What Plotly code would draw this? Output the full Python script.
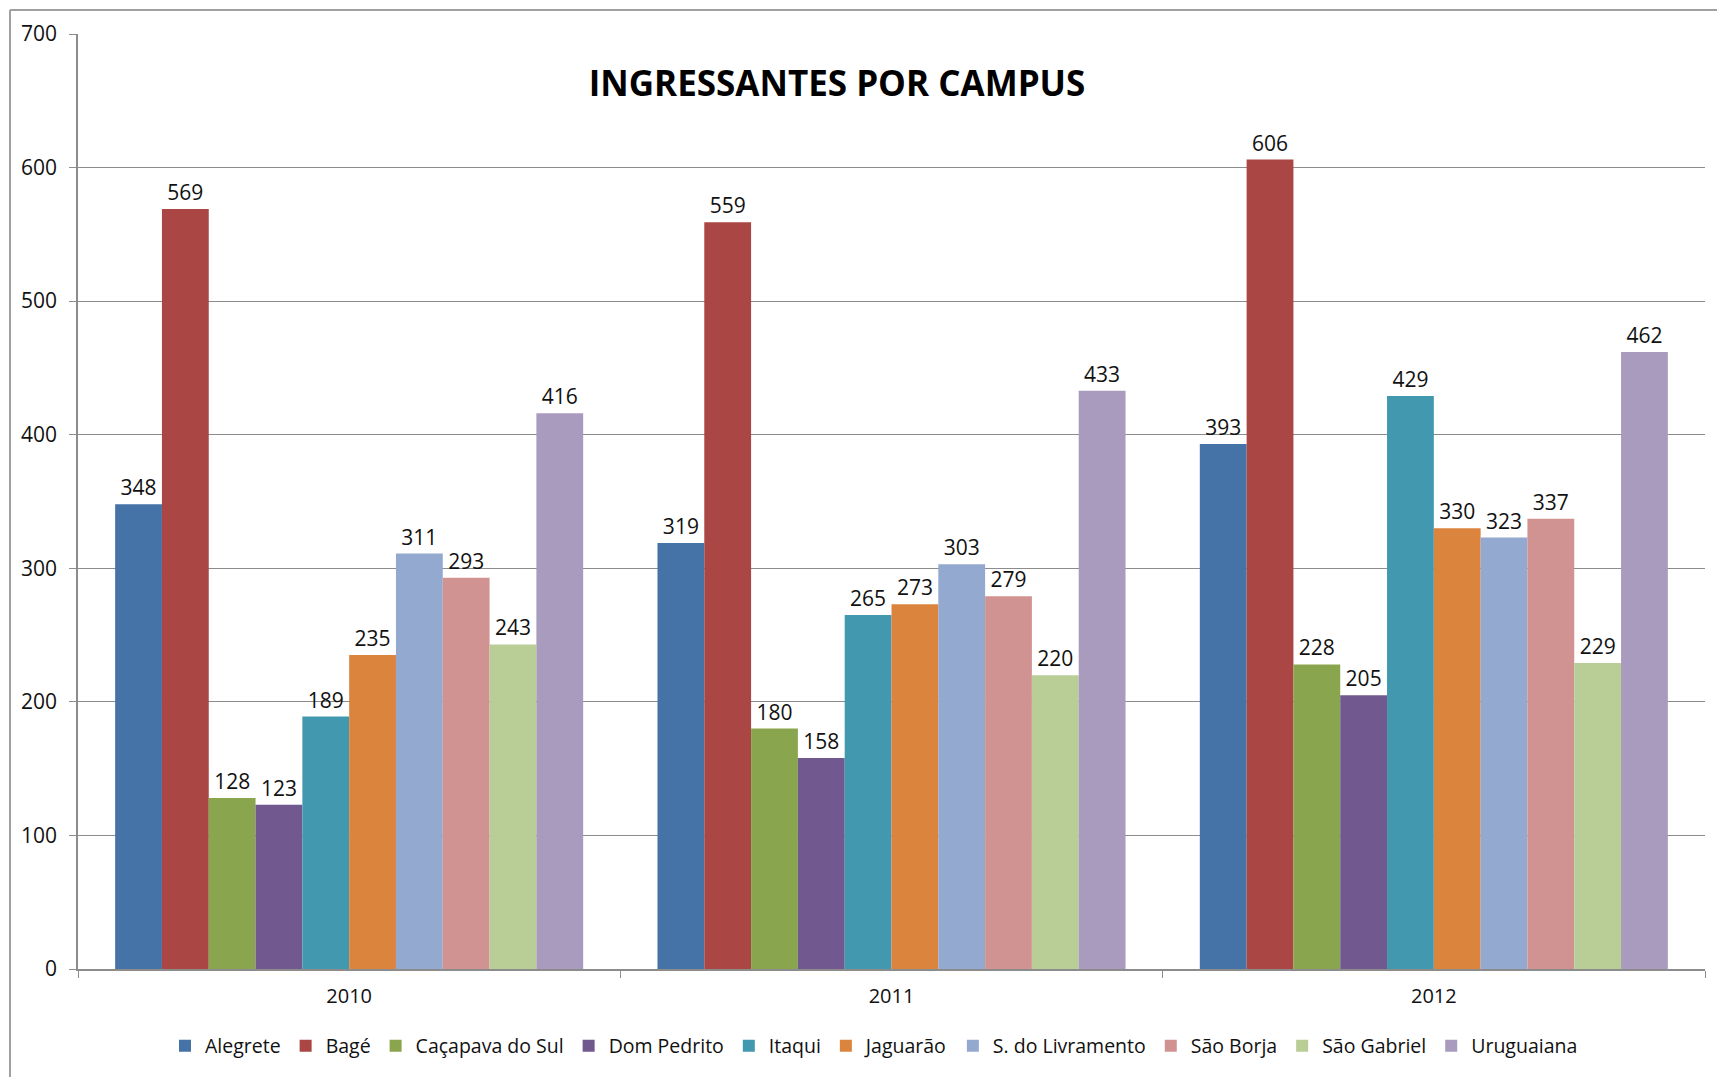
import plotly.graph_objects as go

years = ["2010", "2011", "2012"]
campuses = ["Alegrete", "Bagé", "Caçapava do Sul", "Dom Pedrito", "Itaqui",
            "Jaguarão", "S. do Livramento", "São Borja", "São Gabriel", "Uruguaiana"]
alegrete = [348, 319, 393]
bage = [569, 559, 606]
cacapava = [128, 180, 228]
dom_pedrito = [123, 158, 205]
itaqui = [189, 265, 429]
jaguarao = [235, 273, 330]
livramento = [311, 303, 323]
sao_borja = [293, 279, 337]
sao_gabriel = [243, 220, 229]
uruguaiana = [416, 433, 462]
series = [alegrete, bage, cacapava, dom_pedrito, itaqui, jaguarao,
          livramento, sao_borja, sao_gabriel, uruguaiana]
colors = ["#4572A7", "#AA4643", "#89A54E", "#71588F", "#4198AF",
          "#DB843D", "#93A9CF", "#D19392", "#B9CD96", "#A99BBD"]
y_ticks = [0, 100, 200, 300, 400, 500, 600, 700]

fig = go.Figure()
for name, vals, col in zip(campuses, series, colors):
    fig.add_trace(go.Bar(
        name=name, x=years, y=vals, marker=dict(color=col, line=dict(width=0)),
        text=[str(v) for v in vals], textposition="outside",
        textfont=dict(family="Open Sans", size=21, color="#111"),
        cliponaxis=False,
    ))

W, H = 1717, 1077
L, R, T, B = 78, 12, 34, 108
pw, ph = W - L - R, H - T - B

fig.update_layout(
    width=W, height=H,
    margin=dict(l=L, r=R, t=T, b=B),
    paper_bgcolor="white", plot_bgcolor="white",
    barmode="group", bargap=0.137, bargroupgap=0,
    title=dict(text="<b>INGRESSANTES POR CAMPUS</b>", x=837 / W, xanchor="center",
               y=1 - 84 / H, yanchor="middle",
               font=dict(family="Open Sans", size=35, color="#000")),
    legend=dict(orientation="h", x=(874 - L) / pw, xanchor="center",
                y=-(1046 - (H - B)) / ph, yanchor="middle",
                font=dict(family="Open Sans", size=19.5, color="#111"),
                itemwidth=30, traceorder="normal", tracegroupgap=0),
    font=dict(family="Open Sans", color="#111"),
    xaxis=dict(showline=True, linecolor="#8c8c8c", linewidth=1.5,
               ticks="outside", tickson="boundaries", ticklen=7, tickcolor="#8c8c8c",
               tickfont=dict(family="Open Sans", size=20, color="#111"),
               ticklabelstandoff=8, showgrid=False),
    yaxis=dict(range=[0, 700], tickvals=y_ticks, showline=True, linecolor="#8c8c8c",
               linewidth=1.5, ticks="outside", ticklen=7, tickcolor="#8c8c8c",
               showgrid=True, gridcolor="#8c8c8c", gridwidth=1.2,
               tickfont=dict(family="Open Sans", size=21, color="#111"),
               ticklabelstandoff=8, zeroline=False),
    shapes=[
        dict(type="line", xref="paper", yref="paper",
             x0=(10 - L) / pw, x1=(W - L) / pw, y0=1 + (T - 10) / ph, y1=1 + (T - 10) / ph,
             line=dict(color="#a0a0a0", width=2)),
        dict(type="line", xref="paper", yref="paper",
             x0=(10 - L) / pw, x1=(10 - L) / pw, y0=1 + (T - 10) / ph, y1=-(B) / ph,
             line=dict(color="#a0a0a0", width=2)),
    ],
)

fig.write_html("out.html", config={"displayModeBar": False},
               post_script="document.body.style.margin='0';")
